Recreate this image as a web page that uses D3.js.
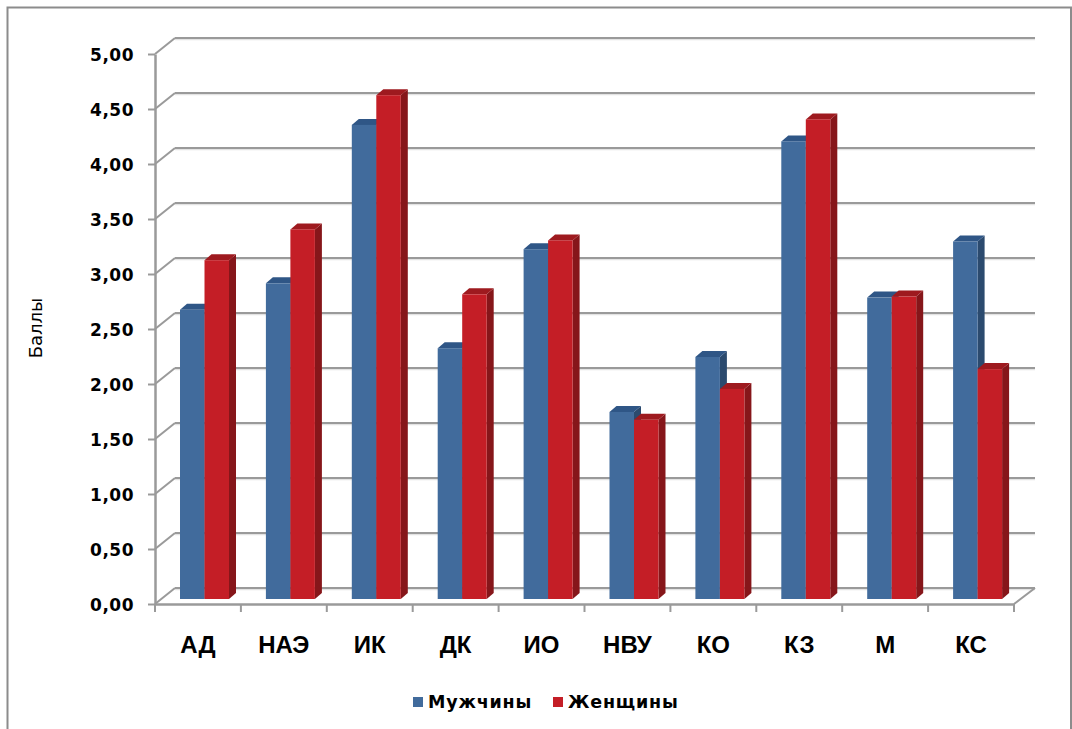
<!DOCTYPE html>
<html><head><meta charset="utf-8">
<script src="https://cdn.jsdelivr.net/npm/d3@7"></script>
<style>html,body{margin:0;padding:0;background:#fff;}svg{display:block;}</style>
</head><body>
<svg id="chart" width="1072" height="729"></svg>
<script>
const categories = ["АД","НАЭ","ИК","ДК","ИО","НВУ","КО","КЗ","М","КС"];
const seriesNames = ["Мужчины","Женщины"];
const men   = [2.63,2.87,4.31,2.28,3.18,1.70,2.20,4.16,2.74,3.25];
const women = [3.08,3.36,4.58,2.77,3.26,1.63,1.91,4.36,2.75,2.09];
const tickValues = [0,0.5,1,1.5,2,2.5,3,3.5,4,4.5,5];
const tickLabels = ["0,00","0,50","1,00","1,50","2,00","2,50","3,00","3,50","4,00","4,50","5,00"];
const yTitle = "Баллы";

const colors = {
  "Мужчины": {front:"#416b9c", top:"#2f5686", side:"#2b4a6e"},
  "Женщины": {front:"#c41e26", top:"#9e1a1f", side:"#86161a"}
};

const svg = d3.select("#chart");
// outer border
svg.append("rect").attr("x",7.5).attr("y",7.5).attr("width",1063.5).attr("height",740)
  .attr("fill","#fff").attr("stroke","#8c8c8c").attr("stroke-width",2);

const x0 = d3.scaleBand().domain(categories).range([155,1014]).padding(0);
const x1 = d3.scaleBand().domain(seriesNames).range([25,74]).padding(0);
const y = d3.scaleLinear().domain([0,5]).range([604,54]);

const wallDx = 20, wallDy = -16;   // back wall offset
const barDy = -5;                   // bar front plane offset
const depthDx = 7, depthDy = -6;    // bar depth

// back wall gridlines
const g = svg.append("g");
tickValues.forEach(v => {
  const yy = y(v) + wallDy;
  g.append("line").attr("x1",175).attr("x2",1035).attr("y1",yy+1.5).attr("y2",yy+1.5)
    .attr("stroke","#e3e3e3").attr("stroke-width",1.5);
  g.append("line").attr("x1",175).attr("x2",1035).attr("y1",yy).attr("y2",yy)
    .attr("stroke","#9a9a9a").attr("stroke-width",2);
  g.append("line").attr("x1",155).attr("y1",y(v)).attr("x2",155+wallDx).attr("y2",yy)
    .attr("stroke","#9a9a9a").attr("stroke-width",2);
});
// floor right edge
g.append("line").attr("x1",1014).attr("y1",y(0)).attr("x2",1014+wallDx+1).attr("y2",y(0)+wallDy)
  .attr("stroke","#9a9a9a").attr("stroke-width",2);

// bars
const barsG = svg.append("g");
const data = categories.map((c,i)=>({cat:c, values:[{s:seriesNames[0],v:men[i]},{s:seriesNames[1],v:women[i]}]}));
data.forEach(d => {
  const gx = x0(d.cat);
  d.values.forEach(b => {
    const x = gx + x1(b.s), w = x1.bandwidth();
    const yt = y(b.v) + barDy, yb = y(0) + barDy;
    const c = colors[b.s];
    barsG.append("polygon")
      .attr("points",[[x+w,yt],[x+w+depthDx,yt+depthDy],[x+w+depthDx,yb+depthDy],[x+w,yb]].map(p=>p.join(",")).join(" "))
      .attr("fill",c.side);
    barsG.append("polygon")
      .attr("points",[[x,yt],[x+w,yt],[x+w+depthDx,yt+depthDy],[x+depthDx,yt+depthDy]].map(p=>p.join(",")).join(" "))
      .attr("fill",c.top);
    barsG.append("rect").attr("x",x).attr("y",yt).attr("width",w).attr("height",yb-yt)
      .attr("fill",c.front);
  });
});

// y axis
const yAxis = d3.axisLeft(y).tickValues(tickValues).tickFormat((v,i)=>tickLabels[i]).tickSize(7).tickSizeOuter(0);
const ya = svg.append("g").attr("transform","translate(155,0)").call(yAxis);
ya.select(".domain").attr("stroke","#9a9a9a").attr("stroke-width",2.5);
ya.selectAll(".tick line").attr("stroke","#9a9a9a").attr("stroke-width",2);
ya.selectAll(".tick text").attr("x",-21).attr("dy","0.4em").attr("font-family","'DejaVu Sans', Verdana, sans-serif")
  .attr("font-weight","bold").attr("font-size",17).attr("letter-spacing",0.5).attr("fill","#000");

// x axis
const xAxis = d3.axisBottom(x0).tickSize(0).tickSizeOuter(0);
const xa = svg.append("g").attr("transform","translate(0,604)").call(xAxis);
xa.select(".domain").attr("stroke","#9a9a9a").attr("stroke-width",2.5);
xa.selectAll(".tick text").attr("y",32).attr("dy","0.71em")
  .attr("font-family","'Liberation Sans', Arial, sans-serif").attr("font-weight","bold").attr("font-size",24).attr("fill","#000");
const boundaries = categories.map(c=>x0(c)).concat([x0.range()[1]]);
xa.selectAll(".bnd").data(boundaries).enter().append("line").attr("class","bnd")
  .attr("x1",d=>d).attr("x2",d=>d).attr("y1",0).attr("y2",8).attr("stroke","#9a9a9a").attr("stroke-width",2);

// y title
svg.append("text").attr("transform","translate(42,328) rotate(-90)").attr("text-anchor","middle")
  .attr("font-family","'DejaVu Sans', Verdana, sans-serif").attr("font-size",18).attr("fill","#000").text(yTitle);

// legend
const legend = svg.append("g");
const legX = [413, 553];
seriesNames.forEach((s,i)=>{
  legend.append("rect").attr("x",legX[i]).attr("y",697).attr("width",10).attr("height",10).attr("fill",colors[s].front);
  legend.append("text").attr("x",legX[i]+15).attr("y",708).attr("font-family","'DejaVu Sans', Verdana, sans-serif")
    .attr("font-weight","bold").attr("font-size",17.5).attr("letter-spacing",0.8).attr("fill","#000").text(s);
});
</script>
</body></html>
